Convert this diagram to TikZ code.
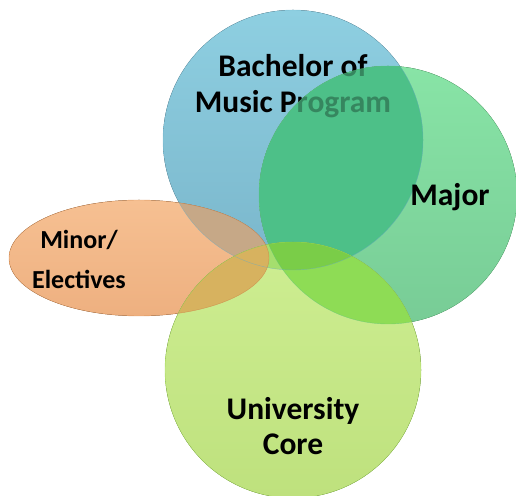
\documentclass[tikz,border=0pt]{standalone}
\usepackage{fontspec}
\setmainfont{Carlito}

\definecolor{bmptop}{RGB}{142,207,225}
\definecolor{bmpbot}{RGB}{122,182,203}
\definecolor{bmpedge}{RGB}{105,170,195}
\definecolor{majtop}{RGB}{136,228,166}
\definecolor{majbot}{RGB}{120,204,150}
\definecolor{majedge}{RGB}{95,195,125}
\definecolor{mintop}{RGB}{246,192,146}
\definecolor{minbot}{RGB}{238,176,128}
\definecolor{minedge}{RGB}{205,130,70}
\definecolor{coretop}{RGB}{206,238,146}
\definecolor{corebot}{RGB}{190,225,125}
\definecolor{coreedge}{RGB}{150,210,75}
\definecolor{bmpmaj}{RGB}{77,192,136}
\definecolor{bmpmin}{RGB}{198,168,135}
\definecolor{bmpcore}{RGB}{165,222,110}
\definecolor{majcore}{RGB}{142,220,85}
\definecolor{allgreen}{RGB}{122,205,72}
\definecolor{mincore}{RGB}{215,178,95}

\begin{document}
\begin{tikzpicture}[x=1pt,y=1pt,
    lbl/.style={font=\bfseries\fontsize{31.5}{36}\selectfont,align=center}]
      \useasboundingbox (0,0) rectangle (516,495) ;
      \coordinate (bmp) at (293,355) ;
      \coordinate (maj) at (388,300) ;
      \coordinate (min) at (139,237) ;
      \coordinate (core) at (293,125) ;
      % blue, green and orange discs
      \fill[top color=bmptop,bottom color=bmpbot] (bmp) circle (130pt) ;
      \fill[top color=majtop,bottom color=majbot] (maj) circle (129pt) ;
      \fill[top color=mintop,bottom color=minbot] (min) ellipse (130pt and 58pt) ;
      \begin{scope}
        \clip (bmp) circle (130pt) ;
        \fill[bmpmaj] (maj) circle (129pt) ;
        \fill[bmpmin] (min) ellipse (130pt and 58pt) ;
      \end{scope}
      \node[lbl] (bmptext) at (293,409) {Bachelor of\\Music Program} ;
      % green shows the text through
      \begin{scope}
        \clip (bmp) circle (130pt) ;
        \fill[bmpmaj,fill opacity=0.7] (maj) circle (129pt) ;
      \end{scope}
      % lime disc on top
      \fill[top color=coretop,bottom color=corebot] (core) circle (128pt) ;
      \begin{scope}
        \clip (core) circle (128pt) ;
        \fill[bmpcore] (bmp) circle (130pt) ;
        \fill[majcore] (maj) circle (129pt) ;
        \clip (bmp) circle (130pt) ;
        \fill[allgreen] (maj) circle (129pt) ;
      \end{scope}
      \begin{scope}
        \clip (min) ellipse (130pt and 58pt) ;
        \fill[mincore] (core) circle (128pt) ;
      \end{scope}
      % outlines
      \draw[bmpedge,draw opacity=0.6] (bmp) circle (130pt) ;
      \draw[majedge,draw opacity=0.6] (maj) circle (129pt) ;
      \draw[minedge,draw opacity=0.7] (min) ellipse (130pt and 58pt) ;
      \draw[coreedge,draw opacity=0.7] (core) circle (128pt) ;
      \node[lbl] (majtext) at (450,298) {Major} ;
      \node[lbl,font=\bfseries\fontsize{26}{40}\selectfont] %
      (mintext) at (79,236) {Minor/\\Electives} ;
      \node[lbl,font=\bfseries\fontsize{31.5}{35}\selectfont] %
      (coretext) at (293,69) {University\\Core} ;
    \end{tikzpicture}
\end{document}
